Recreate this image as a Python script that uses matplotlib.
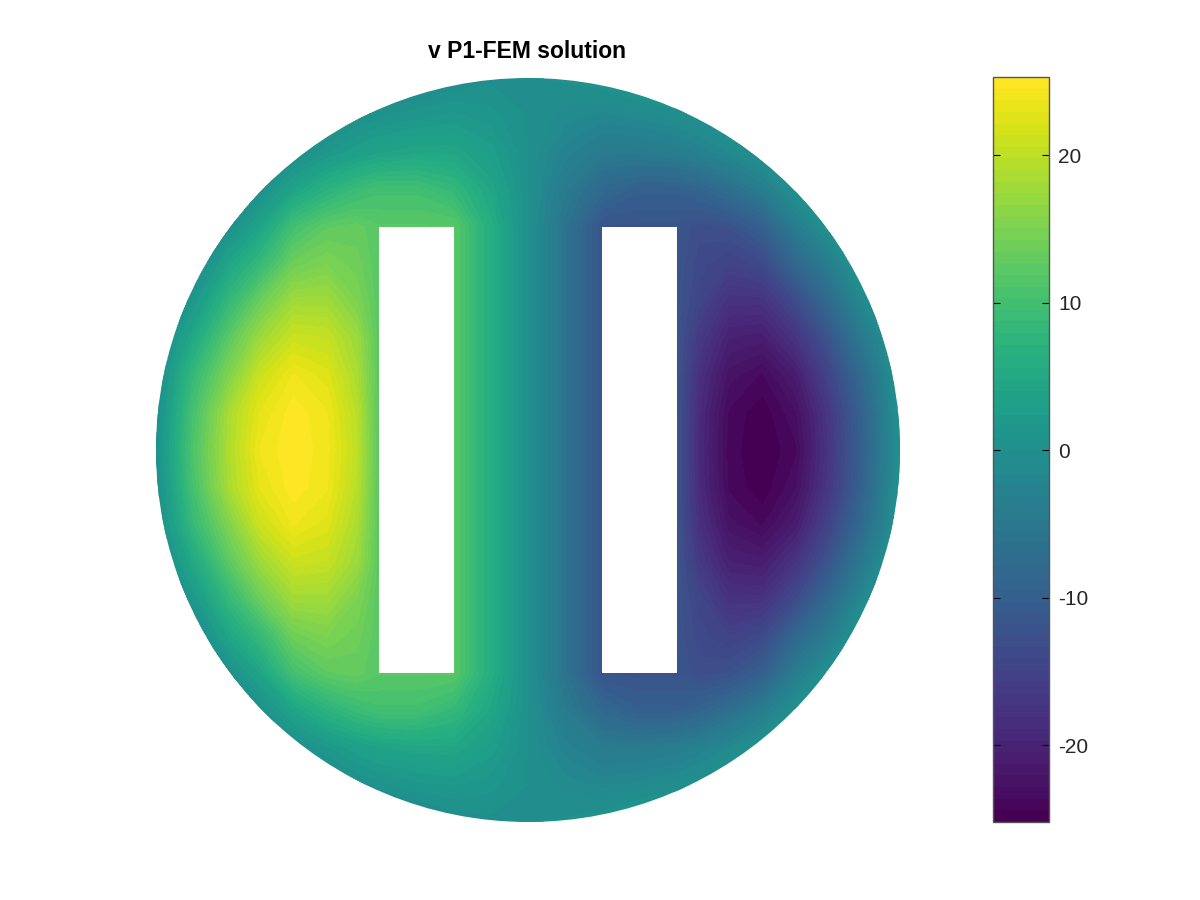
import numpy as np
import matplotlib
matplotlib.use("Agg")
import matplotlib.pyplot as plt
from matplotlib.patches import Circle, Rectangle
from matplotlib.colors import ListedColormap, Normalize
from matplotlib.cm import ScalarMappable

plt.rcParams['font.family'] = ['Liberation Sans', 'DejaVu Sans']
plt.rcParams['axes.unicode_minus'] = False

# solution (nodes outside the disk only continue the slope)
x = [-1.0, -0.9, -0.8, -0.72, -0.63, -0.54, -0.46, -0.4, -0.3, -0.2, -0.1, 0.0, 0.1, 0.2, 0.3, 0.4, 0.46, 0.54, 0.63, 0.72, 0.8, 0.9, 1.0]
y = [1.0, 0.9, 0.8, 0.7, 0.6, 0.5, 0.4, 0.3, 0.2, 0.1, 0.0, -0.1, -0.2, -0.3, -0.4, -0.5, -0.6, -0.7, -0.8, -0.9, -1.0]
v = [
    [-6, -6, -6, -5, -4, -4, -3, -3, -2, -0.8, -0.2, 0, 0.2, 0.8, 2, 3, 3, 4, 4, 5, 6, 6, 6],
    [-6, -6, -5, -4, -3, -1.5, -0.3, 0.5, 1.3, 1.8, 1.1, 0, -1.1, -1.8, -1.3, -0.5, 0.3, 1.5, 3, 4, 5, 6, 6],
    [-6, -5, -4, -2, -0.5, 1.5, 3, 3.8, 4.5, 4.5, 2.8, 0, -2.8, -4.5, -4.5, -3.8, -3, -1.5, 0.5, 2, 4, 5, 6],
    [-6, -4, -3, -0.2, 4, 7, 9, 10, 10, 8.3, 4.5, 0, -4.5, -8.3, -10, -10, -9, -7, -4, 0.2, 3, 4, 6],
    [-5, -3, 0, 4, 10, 12.5, 13, 12, 12, 12, 6, 0, -6, -12, -12, -12, -13, -12.5, -10, -4, 0, 3, 5],
    [-4, -2, 4.5, 8.5, 13.8, 15, 13.8, 12, 12, 12, 6, 0, -6, -12, -12, -12, -13.8, -15, -13.8, -8.5, -4.5, 2, 4],
    [-3, 1.5, 8.5, 13.5, 17.8, 17.8, 15, 12, 12, 12, 6, 0, -6, -12, -12, -12, -14.5, -17.8, -17.8, -13.5, -8.5, -1.4, 3],
    [-2, 5, 12.5, 17.5, 21, 20.5, 17.5, 12, 12, 12, 6, 0, -6, -12, -12, -12, -16.5, -20.5, -21, -17.5, -12.5, -4.7, 2],
    [-1, 8.5, 15.5, 21, 23.8, 22.5, 18.5, 12, 12, 12, 6, 0, -6, -12, -12, -12, -18, -22.5, -23.8, -21, -15.5, -7.7, 1],
    [-0.5, 10.3, 18.7, 23, 25, 23.8, 19.5, 12, 12, 12, 6, 0, -6, -12, -12, -12, -18.8, -23.8, -25, -23, -17.5, -9.2, 0.5],
    [0, 11, 19, 23.8, 25.2, 24, 20, 12, 12, 12, 6, 0, -6, -12, -12, -12, -19, -24, -25.2, -23.8, -18, -9.5, 0],
    [-0.5, 10.3, 18.7, 23, 25, 23.8, 19.5, 12, 12, 12, 6, 0, -6, -12, -12, -12, -18.8, -23.8, -25, -23, -17.5, -9.2, 0.5],
    [-1, 8.5, 15.5, 21, 23.8, 22.5, 18.5, 12, 12, 12, 6, 0, -6, -12, -12, -12, -18, -22.5, -23.8, -21, -15.5, -7.7, 1],
    [-2, 5, 12.5, 17.5, 21, 20.5, 17.5, 12, 12, 12, 6, 0, -6, -12, -12, -12, -16.5, -20.5, -21, -17.5, -12.5, -4.7, 2],
    [-3, 1.5, 8.5, 13.5, 17.8, 17.8, 15, 12, 12, 12, 6, 0, -6, -12, -12, -12, -14.5, -17.8, -17.8, -13.5, -8.5, -1.4, 3],
    [-4, -2, 4.5, 8.5, 13.8, 15, 13.8, 12, 12, 12, 6, 0, -6, -12, -12, -12, -13.8, -15, -13.8, -8.5, -4.5, 2, 4],
    [-5, -3, 0, 4, 10, 12.5, 13, 12, 12, 12, 6, 0, -6, -12, -12, -12, -13, -12.5, -10, -4, 0, 3, 5],
    [-6, -4, -3, -0.2, 4, 7, 9, 10, 10, 8.3, 4.5, 0, -4.5, -8.3, -10, -10, -9, -7, -4, 0.2, 3, 4, 6],
    [-6, -5, -4, -2, -0.5, 1.5, 3, 3.8, 4.5, 4.5, 2.8, 0, -2.8, -4.5, -4.5, -3.8, -3, -1.5, 0.5, 2, 4, 5, 6],
    [-6, -6, -5, -4, -3, -1.5, -0.3, 0.5, 1.3, 1.8, 1.1, 0, -1.1, -1.8, -1.3, -0.5, 0.3, 1.5, 3, 4, 5, 6, 6],
    [-6, -6, -6, -5, -4, -4, -3, -3, -2, -0.8, -0.2, 0, 0.2, 0.8, 2, 3, 3, 4, 4, 5, 6, 6, 6],
]
vmin = -25.2
vmax = 25.3
cticks = [-20, -10, 0, 10, 20]
holes = [(-0.4, -0.6, 0.2, 1.2), (0.2, -0.6, 0.2, 1.2)]

cmap = ListedColormap(plt.get_cmap('viridis')(np.linspace(0, 1, 64)))
levels = np.linspace(vmin, vmax, 65)

fig = plt.figure(figsize=(12, 9), dpi=100)
ax = fig.add_axes([156/1200, 78/900, 744/1200, 744/900])
cs = ax.contourf(x, y, np.array(v), levels=levels, cmap=cmap, vmin=vmin, vmax=vmax, extend='both')
disk = Circle((0, 0), 1.0, transform=ax.transData)
cs.set_clip_path(disk)
for h in holes:
    ax.add_patch(Rectangle((h[0], h[1]), h[2], h[3], fc='white', ec='none', zorder=5))
ax.set_xlim(-1, 1)
ax.set_ylim(-1, 1)
ax.axis('off')
fig.text(527.5/1200, 1-51/900, "v P1-FEM solution", fontsize=16.5, fontweight='bold', ha='center', va='center')

cax = fig.add_axes([993/1200, 78/900, 56/1200, 745/900])
cb = fig.colorbar(ScalarMappable(Normalize(vmin, vmax), cmap), cax=cax)
cb.set_ticks(cticks)
cb.ax.tick_params(direction='in', left=True, right=True, length=5, width=0.8, labelsize=15, pad=6.5, labelcolor='#262626')
cb.outline.set_linewidth(1.0)
cb.outline.set_edgecolor('#555555')

fig.savefig("out.png", dpi=100)
